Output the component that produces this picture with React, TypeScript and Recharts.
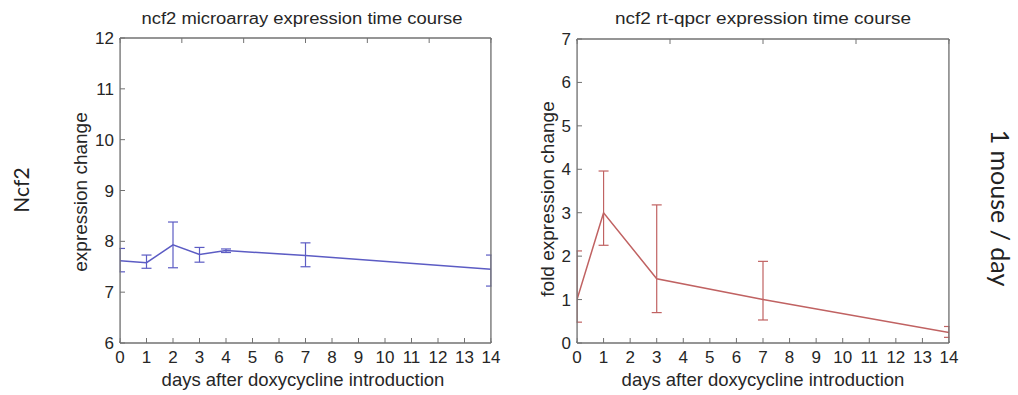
import React from "react";
import { LineChart, Line, XAxis, YAxis, ErrorBar } from "recharts";

// ---- microarray (left) ----
const microDays = [0, 1, 2, 3, 4, 7, 14];
const microMean = [7.62, 7.58, 7.93, 7.74, 7.82, 7.72, 7.45];
const microLow = [7.4, 7.47, 7.48, 7.59, 7.78, 7.5, 7.12];
const microHigh = [7.86, 7.73, 8.38, 7.88, 7.85, 7.97, 7.73];
const microYTicks = [6, 7, 8, 9, 10, 11, 12];

// ---- rt-qpcr (right) ----
const qDays = [0, 1, 3, 7, 14];
const qMean = [1.0, 3.0, 1.48, 1.0, 0.24];
const qLow = [0.48, 2.25, 0.7, 0.53, 0.13];
const qHigh = [2.12, 3.96, 3.18, 1.88, 0.38];
const qYTicks = [0, 1, 2, 3, 4, 5, 6, 7];

const xTicks = [0, 1, 2, 3, 4, 5, 6, 7, 8, 9, 10, 11, 12, 13, 14];

const microData = microDays.map((d, i) => ({
  day: d,
  value: microMean[i],
  err: [microMean[i] - microLow[i], microHigh[i] - microMean[i]],
}));
const qData = qDays.map((d, i) => ({
  day: d,
  value: qMean[i],
  err: [qMean[i] - qLow[i], qHigh[i] - qMean[i]],
}));

const AXIS = "#727272";
const TXT = "#262626";
const FONT = "'Liberation Sans', Arial, sans-serif";
const TL = 5;
const TICK_FS = 17;

const BottomTick = (p: any) => (
  <g>
    <line x1={p.x} x2={p.x} y1={p.y} y2={p.y - TL} stroke={AXIS} strokeWidth={1} />
    <text x={p.x} y={p.y + 20} textAnchor="middle" fontSize={TICK_FS} fill={TXT} fontFamily={FONT}>
      {p.payload.value}
    </text>
  </g>
);
const TopTick = (p: any) => (
  <line x1={p.x} x2={p.x} y1={p.y} y2={p.y + TL} stroke={AXIS} strokeWidth={1} />
);
const LeftTick = (p: any) => (
  <g>
    <line x1={p.x} x2={p.x + TL} y1={p.y} y2={p.y} stroke={AXIS} strokeWidth={1} />
    <text x={p.x - 6} y={p.y + 6} textAnchor="end" fontSize={TICK_FS} fill={TXT} fontFamily={FONT}>
      {p.payload.value}
    </text>
  </g>
);
const RightTick = (p: any) => (
  <line x1={p.x} x2={p.x - TL} y1={p.y} y2={p.y} stroke={AXIS} strokeWidth={1} />
);

type PanelProps = {
  data: any[];
  yDomain: [number, number];
  yTicks: number[];
  color: string;
  width: number;
  margin: { top: number; right: number; bottom: number; left: number };
  capWidth: number;
};

const Panel = ({ data, yDomain, yTicks, color, width, margin, capWidth }: PanelProps) => (
  <LineChart width={width} height={395} data={data} margin={margin}>
    <XAxis
      dataKey="day"
      type="number"
      domain={[0, 14]}
      ticks={xTicks}
      allowDataOverflow
      height={1}
      tickSize={0}
      tickMargin={0}
      tick={<BottomTick />}
      axisLine={{ stroke: AXIS, strokeWidth: 1.5 }}
      interval={0}
    />
    <XAxis
      xAxisId="top"
      orientation="top"
      type="number"
      domain={[0, 14]}
      ticks={xTicks}
      height={1}
      tickSize={0}
      tickMargin={0}
      tick={<TopTick />}
      axisLine={{ stroke: AXIS, strokeWidth: 1.5 }}
      interval={0}
    />
    <YAxis
      type="number"
      domain={yDomain}
      ticks={yTicks}
      allowDataOverflow
      width={1}
      tickSize={0}
      tickMargin={0}
      tick={<LeftTick />}
      axisLine={{ stroke: AXIS, strokeWidth: 1.5 }}
      interval={0}
    />
    <YAxis
      yAxisId="right"
      orientation="right"
      type="number"
      domain={yDomain}
      ticks={yTicks}
      width={1}
      tickSize={0}
      tickMargin={0}
      tick={<RightTick />}
      axisLine={{ stroke: AXIS, strokeWidth: 1.5 }}
      interval={0}
    />
    <Line
      dataKey="value"
      stroke={color}
      strokeWidth={1.5}
      dot={false}
      isAnimationActive={false}
      type="linear"
    >
      <ErrorBar dataKey="err" width={capWidth} stroke={color} strokeWidth={1.2} direction="y" />
    </Line>
  </LineChart>
);

// plot-frame edges (pixels) used only to mask the half of the edge error-bar caps lying outside the frame
const frames = [
  { left: 120, right: 491, top: 38, bottom: 343 },
  { left: 577, right: 949, top: 39, bottom: 343 },
];

export default function App() {
  return (
    <div style={{ position: "absolute", left: 0, top: 0, width: 1018, height: 395, background: "#fff" }}>
      <div style={{ position: "absolute", left: 0, top: 0, zIndex: 1 }}>
        <Panel
          data={microData}
          yDomain={[6, 12]}
          yTicks={microYTicks}
          color="#5c5cc4"
          width={520}
          margin={{ top: 37, right: 28, bottom: 51, left: 119 }}
          capWidth={5}
        />
      </div>
      <div style={{ position: "absolute", left: 520, top: 0, zIndex: 1 }}>
        <Panel
          data={qData}
          yDomain={[0, 7]}
          yTicks={qYTicks}
          color="#c06262"
          width={498}
          margin={{ top: 38, right: 68, bottom: 51, left: 56 }}
          capWidth={5}
        />
      </div>
      <svg
        width={1018}
        height={395}
        style={{ position: "absolute", left: 0, top: 0, pointerEvents: "none", zIndex: 5 }}
      >
        {frames.map((f, i) => (
          <g key={i}>
            <rect x={f.left - 5.8} y={f.top + 2} width={5} height={f.bottom - f.top - 4} fill="#fff" />
            <rect x={f.right + 0.8} y={f.top + 2} width={5.5} height={f.bottom - f.top - 4} fill="#fff" />
          </g>
        ))}
        <text
          x={302}
          y={24}
          textAnchor="middle"
          fontSize={16}
          textLength={321}
          lengthAdjust="spacingAndGlyphs"
          fill={TXT}
          fontFamily={FONT}
        >
          ncf2 microarray expression time course
        </text>
        <text
          x={763}
          y={24}
          textAnchor="middle"
          fontSize={16}
          textLength={296}
          lengthAdjust="spacingAndGlyphs"
          fill={TXT}
          fontFamily={FONT}
        >
          ncf2 rt-qpcr expression time course
        </text>
        <text x={303} y={386} textAnchor="middle" fontSize={18.5} fill={TXT} fontFamily={FONT}>
          days after doxycycline introduction
        </text>
        <text x={763} y={386} textAnchor="middle" fontSize={18.5} fill={TXT} fontFamily={FONT}>
          days after doxycycline introduction
        </text>
        <text
          transform="translate(87,192) rotate(-90)"
          textAnchor="middle"
          fontSize={19}
          fill={TXT}
          fontFamily={FONT}
        >
          expression change
        </text>
        <text
          transform="translate(554,199) rotate(-90)"
          textAnchor="middle"
          fontSize={19}
          fill={TXT}
          fontFamily={FONT}
        >
          fold expression change
        </text>
        <text
          transform="translate(29,190) rotate(-90)"
          textAnchor="middle"
          fontSize={21}
          fill="#222"
          fontFamily="Lato, 'Open Sans', sans-serif"
        >
          Ncf2
        </text>
        <text
          transform="translate(991,208) rotate(90)"
          textAnchor="middle"
          fontSize={25}
          fill="#222"
          fontFamily="Lato, 'Open Sans', sans-serif"
        >
          1 mouse / day
        </text>
      </svg>
    </div>
  );
}
